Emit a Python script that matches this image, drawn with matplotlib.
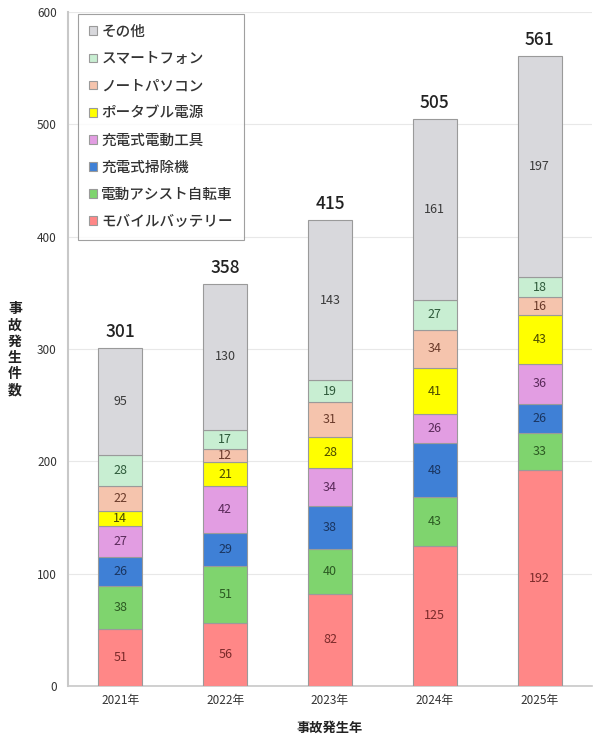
import matplotlib
matplotlib.use("Agg")
import matplotlib.pyplot as plt
import numpy as np

plt.rcParams['font.family'] = ['Noto Sans CJK JP', 'DejaVu Sans']

years = ["2021年", "2022年", "2023年", "2024年", "2025年"]
categories = ["モバイルバッテリー", "電動アシスト自転車", "充電式掃除機", "充電式電動工具",
              "ポータブル電源", "ノートパソコン", "スマートフォン", "その他"]
mobile_battery = [51, 56, 82, 125, 192]
e_bike = [38, 51, 40, 43, 33]
vacuum = [26, 29, 38, 48, 26]
power_tool = [27, 42, 34, 26, 36]
portable_power = [14, 21, 28, 41, 43]
laptop = [22, 12, 31, 34, 16]
smartphone = [28, 17, 19, 27, 18]
other = [95, 130, 143, 161, 197]
totals = [301, 358, 415, 505, 561]

series = [mobile_battery, e_bike, vacuum, power_tool, portable_power, laptop, smartphone, other]
colors = ["#ff8787", "#7fd46e", "#3f80d6", "#e29de2", "#ffff00", "#f5c4ad", "#c8eed2", "#d8d8dc"]
text_colors = ["#7a2a2a", "#2c5a22", "#1a3560", "#5a2a5a", "#4a4a00", "#6a3a2a", "#2e5a3a", "#3a3a3a"]

fig = plt.figure(figsize=(6.0, 7.42), dpi=100)
ax = fig.add_axes([68/600, 1-686/742, (592-68)/600, (686-12)/742])

x = np.arange(len(years))
bottom = np.zeros(len(years))
handles = []
for vals, c, tc, name in zip(series, colors, text_colors, categories):
    bars = ax.bar(x, vals, width=0.42, bottom=bottom, color=c, edgecolor="#9a9a9a",
                  linewidth=0.8, label=name, zorder=3)
    handles.append(bars)
    for xi, b, v in zip(x, bottom, vals):
        ax.text(xi, b + v/2, str(v), ha="center", va="center", fontsize=9,
                color=tc, zorder=4)
    bottom += np.array(vals)

for xi, t in zip(x, totals):
    ax.text(xi, t + 6, str(t), ha="center", va="bottom", fontsize=12.5,
            color="#222222", fontweight="medium", zorder=4)

ax.set_xlim(-0.5, 4.5)
ax.set_ylim(0, 600)
ax.set_yticks(range(0, 601, 100))
ax.set_xticks(x)
ax.set_xticklabels(years, fontsize=8.5, color="#333333")
ax.tick_params(axis='y', labelsize=8.5, colors="#333333", length=0, pad=8)
ax.tick_params(axis='x', length=0, pad=6)
ax.yaxis.grid(True, color="#e8e8e8", linewidth=0.8, zorder=0)
ax.set_axisbelow(True)
for s in ["top", "right"]:
    ax.spines[s].set_visible(False)
ax.spines["left"].set_color("#c8c8c8")
ax.spines["left"].set_linewidth(1.5)
ax.spines["bottom"].set_color("#c8c8c8")
ax.spines["bottom"].set_linewidth(1.2)

ax.set_xlabel("事故発生年", fontsize=9.5, fontweight="bold", color="#222222", labelpad=10)
fig.text(15/600, 1-350/742, "\n".join("事故発生件数"), ha="center", va="center",
         fontsize=10, fontweight="bold", color="#222222", linespacing=1.2)

leg = ax.legend(handles[::-1], categories[::-1], loc="upper left",
                bbox_to_anchor=(10/524, 1-2/674), borderaxespad=0, fontsize=10.5,
                frameon=True, fancybox=False, edgecolor="#888888",
                handlelength=0.55, handleheight=0.55,
                handletextpad=0.3, labelspacing=0.9, borderpad=0.75,
                prop={'weight': 'medium', 'size': 10.5})
leg.get_frame().set_linewidth(0.8)
for t in leg.get_texts():
    t.set_color("#333333")

fig.savefig("out.png", dpi=100)
